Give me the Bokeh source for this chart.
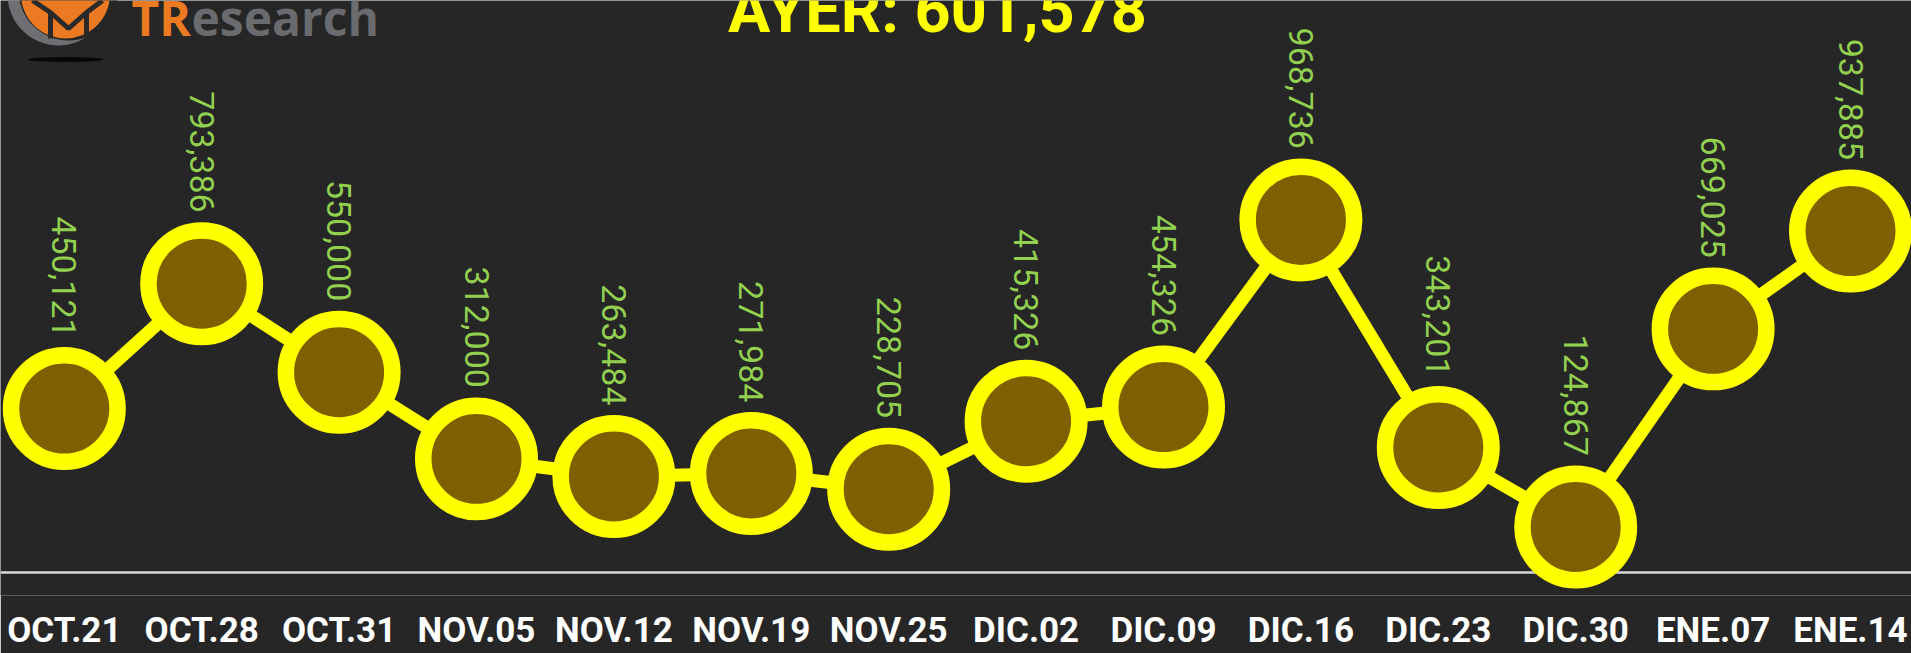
import math
from bokeh.plotting import figure
from bokeh.models import Range1d, FixedTicker, ColumnDataSource, LabelSet, Span
from bokeh.core.properties import value
from bokeh.embed import file_html
from bokeh.resources import INLINE

# ---------------- data ----------------
dates = ["OCT.21", "OCT.28", "OCT.31", "NOV.05", "NOV.12", "NOV.19", "NOV.25",
         "DIC.02", "DIC.09", "DIC.16", "DIC.23", "DIC.30", "ENE.07", "ENE.14"]
values = [450121, 793386, 550000, 312000, 263484, 271984, 228705,
          415326, 454326, 968736, 343201, 124867, 669025, 937885]
value_labels = ["{:,}".format(v) for v in values]
title_text = "AYER: 601,578"

# ---------------- layout ----------------
BG = "#262626"
FRAME_W, FRAME_H = 1911, 595
PX_PER_X = 137.4          # px between consecutive dates
UNITS_PER_PX = 2748.0     # value units per vertical pixel
X_START = -63.8 / PX_PER_X
X_END = X_START + FRAME_W / PX_PER_X
Y_START = -23.1 * UNITS_PER_PX
Y_END = Y_START + FRAME_H * UNITS_PER_PX

def dx(px):  # page px -> data x (decorations only)
    return X_START + px / PX_PER_X

def dy(py):  # page px -> data y (decorations only)
    return Y_END - py * UNITS_PER_PX

FONT = "Roboto"

p = figure(frame_width=FRAME_W, frame_height=FRAME_H,
           x_range=Range1d(X_START, X_END), y_range=Range1d(Y_START, Y_END),
           output_backend="svg", toolbar_location=None,
           y_axis_location=None, min_border=0,
           background_fill_color=BG, border_fill_color=BG,
           outline_line_color=None)
p.grid.visible = False

ax = p.xaxis[0]
ax.ticker = FixedTicker(ticks=list(range(len(dates))))
ax.major_label_overrides = {i: d for i, d in enumerate(dates)}
ax.axis_line_color = None
ax.major_tick_line_color = None
ax.minor_tick_line_color = None
ax.major_tick_out = 0
ax.major_tick_in = 0
ax.major_label_standoff = 14
ax.major_label_text_color = "#FFFFFF"
ax.major_label_text_font = FONT
ax.major_label_text_font_size = "35px"
ax.major_label_text_font_style = "bold"

# baseline
p.add_layout(Span(location=0, dimension="width", line_color="#D9D9D9",
                  line_width=2.5, level="underlay"))

src = ColumnDataSource(dict(x=list(range(len(values))), y=values, lab=value_labels))

p.line("x", "y", source=src, line_color="#FFFF00", line_width=13)
p.scatter("x", "y", source=src, size=106.5, fill_color="#7F6000",
          line_color="#FFFF00", line_width=16.5)

labels = LabelSet(x="x", y="y", text="lab", source=src, y_offset=71,
                  angle=-math.pi / 2, text_align="right", text_baseline="middle",
                  text_color="#92D050", text_font=value(FONT),
                  text_font_size="34px")
p.add_layout(labels)

# title (cropped at top as in the reference)
p.text(x=[dx(937)], y=[dy(10)], text=[title_text], text_align="center",
       text_baseline="alphabetic", text_color="#FFFF00",
       text_font=value(FONT), text_font_size="63px", text_font_style="bold")

# logo
p.scatter(x=[dx(58)], y=[dy(-6)], size=102, fill_color="#6E6F73", line_color=None)
p.scatter(x=[dx(68)], y=[dy(-10)], size=100, fill_color=BG, line_color=None)
p.scatter(x=[dx(65)], y=[dy(-6.5)], size=89, fill_color="#EC7A22", line_color=None)
p.multi_line(xs=[[dx(50), dx(50), dx(68), dx(86), dx(86)],
                 [dx(32), dx(50)], [dx(86), dx(102)]],
             ys=[[dy(38), dy(12), dy(28), dy(12), dy(38)],
                 [dy(0), dy(12)], [dy(12), dy(0)]],
             line_color="#2A2A2A", line_width=5)
p.ellipse(x=[dx(65)], y=[dy(59)], width=75, height=5, width_units="screen",
          height_units="screen", fill_color="#000000", fill_alpha=0.8, line_color=None)
p.text(x=[dx(131)], y=[dy(17)], text=["TR"], text_align="left",
       text_baseline="alphabetic", text_color="#EC7A22",
       text_font=value("Open Sans"), text_font_size="48px", text_font_style="bold")
p.text(x=[dx(191)], y=[dy(17)], text=["esearch"], text_align="left",
       text_baseline="alphabetic", text_color="#6A6B6E",
       text_font=value("Open Sans"), text_font_size="48px", text_font_style="bold")

open("out.html", "w").write(file_html(p, INLINE))
